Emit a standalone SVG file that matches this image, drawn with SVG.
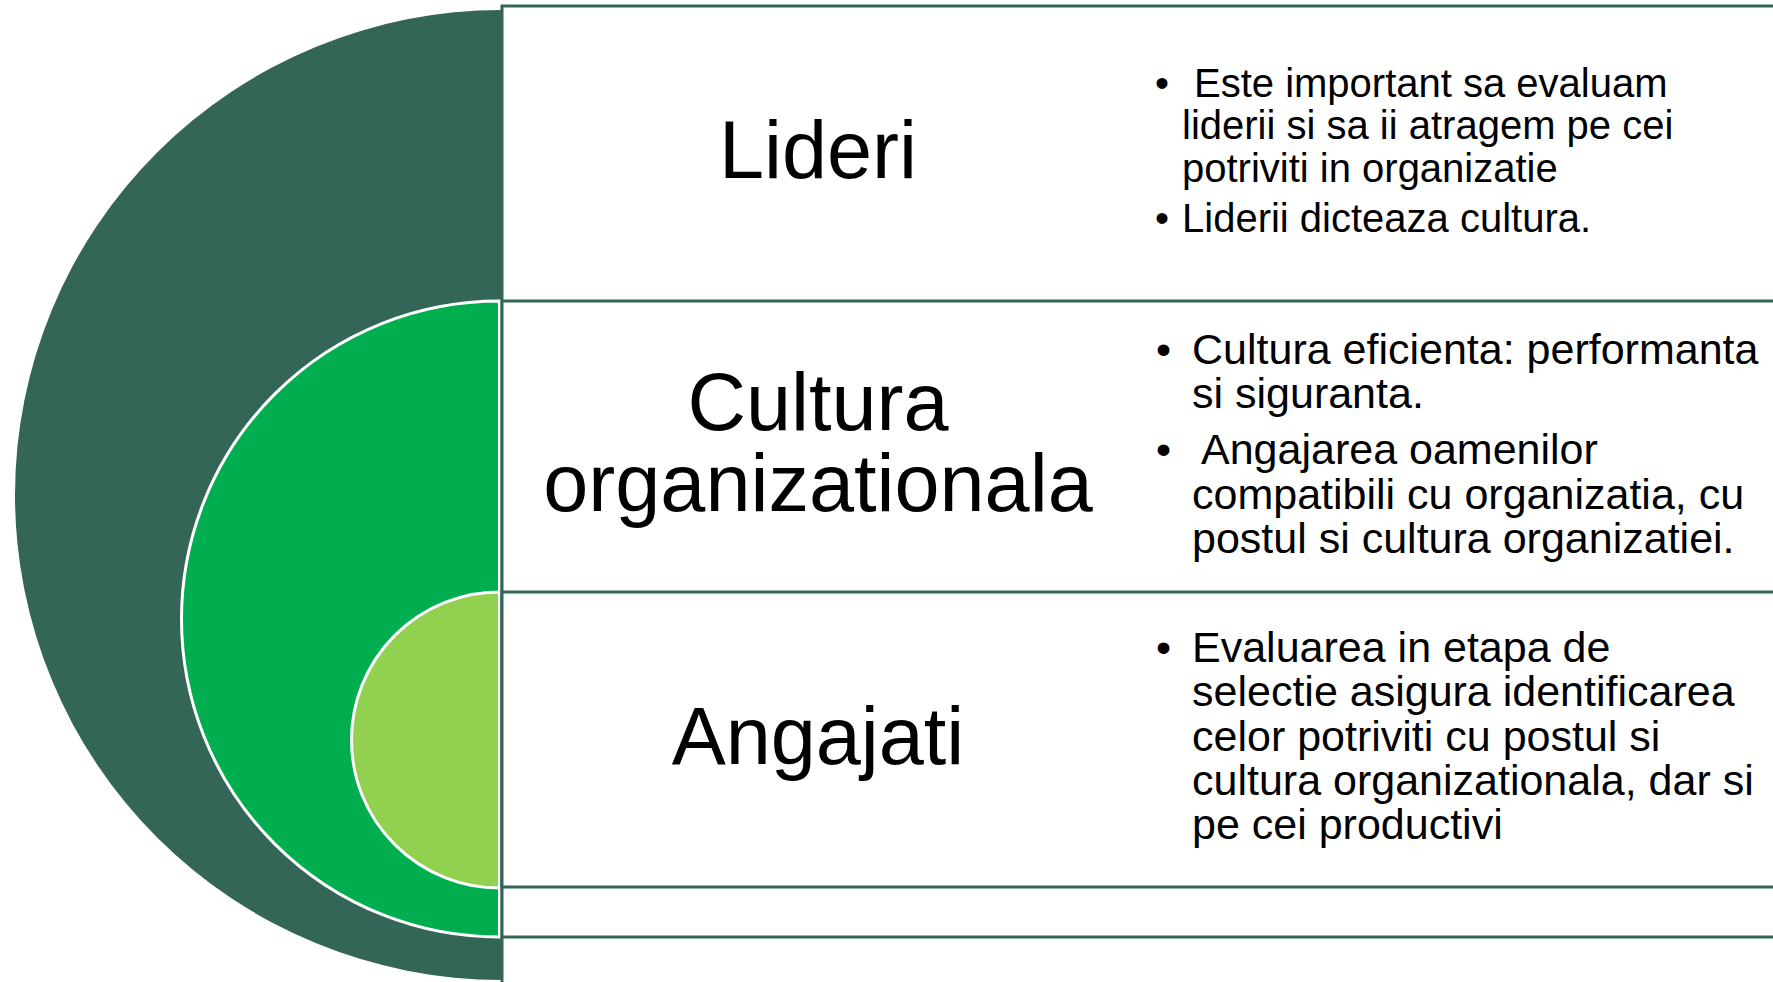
<svg xmlns="http://www.w3.org/2000/svg" width="1773" height="982" viewBox="0 0 1773 982">
<style>
.box{fill:#ffffff;stroke:#336656;stroke-width:3}
.title{font-family:"Liberation Sans",Arial,sans-serif;font-size:81px;fill:#000;text-anchor:middle}
.b1{font-family:"Liberation Sans",Arial,sans-serif;font-size:40px;fill:#000}
.b2{font-family:"Liberation Sans",Arial,sans-serif;font-size:43px;fill:#000}
.ring{stroke:#ffffff;stroke-width:3}
</style>
<rect width="1773" height="982" fill="#ffffff"/>
<g id="shapes">
<path id="outer" d="M502,10 A487,485 0 0 0 502,980 Z" fill="#346657"/>
<path id="middle" class="ring" d="M499.5,301 A318,318 0 0 0 499.5,937 Z" fill="#00AD4F"/>
<path id="inner" class="ring" d="M499.5,592 A148,148 0 0 0 499.5,888 Z" fill="#92D050"/>
</g>
<g id="connectors">
<rect class="box" x="502" y="6" width="1400" height="1000"/>
<rect class="box" x="502" y="301" width="1400" height="636"/>
<rect class="box" x="502" y="592" width="1400" height="295"/>
</g>
<g id="node-lideri">
<text class="title" x="818" y="178">Lideri</text>
<text class="b1" y="97"><tspan x="1155">•</tspan><tspan x="1194">Este important sa evaluam</tspan></text>
<text class="b1" x="1182" y="139">liderii si sa ii atragem pe cei</text>
<text class="b1" x="1182" y="182">potriviti in organizatie</text>
<text class="b1" y="232"><tspan x="1155">•</tspan><tspan x="1182">Liderii dicteaza cultura.</tspan></text>
</g>
<g id="node-cultura">
<text class="title" x="818" y="430">Cultura</text>
<text class="title" x="818" y="511">organizationala</text>
<text class="b2" y="364"><tspan x="1156">•</tspan><tspan x="1192">Cultura eficienta: performanta</tspan></text>
<text class="b2" x="1192" y="408">si siguranta.</text>
<text class="b2" y="464"><tspan x="1156">•</tspan><tspan x="1201">Angajarea oamenilor</tspan></text>
<text class="b2" x="1192" y="509">compatibili cu organizatia, cu</text>
<text class="b2" x="1192" y="553">postul si cultura organizatiei.</text>
</g>
<g id="node-angajati">
<text class="title" x="818" y="764">Angajati</text>
<text class="b2" y="662"><tspan x="1156">•</tspan><tspan x="1192">Evaluarea in etapa de</tspan></text>
<text class="b2" x="1192" y="706">selectie asigura identificarea</text>
<text class="b2" x="1192" y="751">celor potriviti cu postul si</text>
<text class="b2" x="1192" y="795">cultura organizationala, dar si</text>
<text class="b2" x="1192" y="839">pe cei productivi</text>
</g>
</svg>
